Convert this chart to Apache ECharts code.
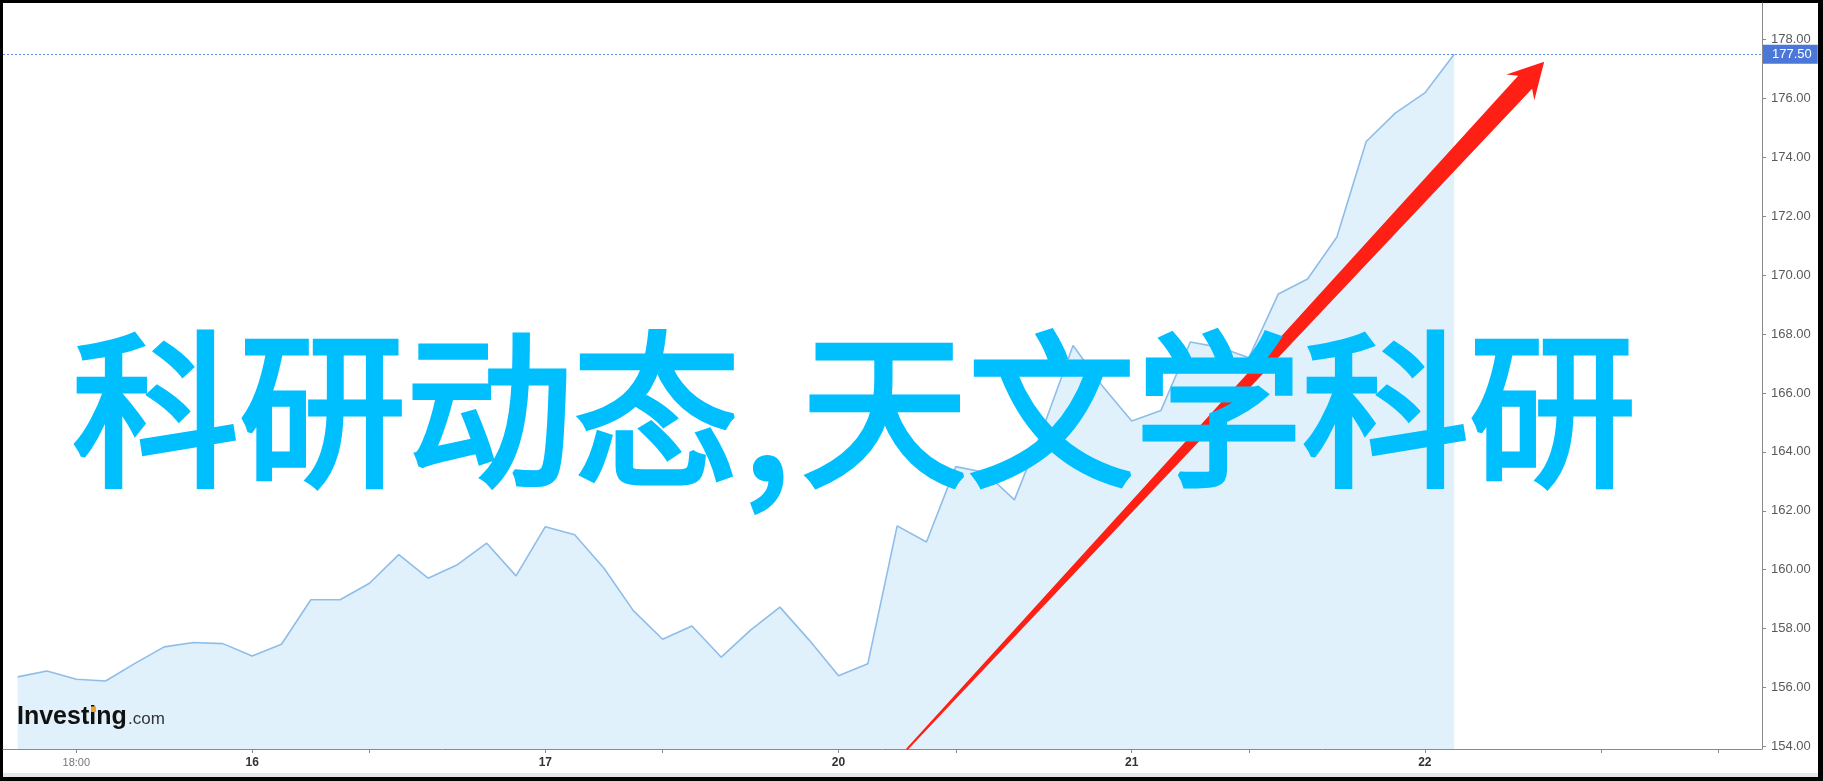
<!DOCTYPE html>
<html>
<head>
<meta charset="utf-8">
<script src="https://cdn.jsdelivr.net/npm/echarts@6/dist/echarts.min.js"></script>
<style>
  html, body { margin: 0; padding: 0; background: #000; width: 1823px; height: 781px; overflow: hidden; }
  #paper { position: absolute; left: 3px; top: 3px; width: 1815px; height: 770px; background: #fff; }
  #strip { position: absolute; left: 3px; top: 773px; width: 1815px; height: 4px; background: #e6e6e6; }
  #chart { position: absolute; left: 0; top: 0; width: 1823px; height: 781px; }
</style>
</head>
<body>
<div id="paper"></div>
<div id="strip"></div>
<div id="chart"></div>
<script>
// ---- data ----
const slotCount = 60;                       // hourly slots on the time axis
const prices = [
  156.36, 156.56, 156.28, 156.22, 156.82, 157.38, 157.53, 157.49, 157.07, 157.47,
  158.98, 158.98, 159.54, 160.51, 159.71, 160.17, 160.90, 159.79, 161.46, 161.19,
  160.05, 158.61, 157.64, 158.09, 157.03, 157.95, 158.73, 157.61, 156.40, 156.81,
  161.49, 160.94, 163.50, 163.30, 162.37, 164.87, 167.61, 166.24, 165.05, 165.41,
  167.73, 167.55, 167.20, 169.36, 169.87, 171.30, 174.54, 175.51, 176.19, 177.50
];
const lastPrice = 177.50;
const tickIndex = [2, 8, 12, 18, 22, 28, 32, 38, 42, 48, 54, 58];
const labelIndex = [2, 8, 18, 28, 38, 48];
const labelText = ['18:00', '16', '17', '20', '21', '22'];
const yTicks = [154, 156, 158, 160, 162, 164, 166, 168, 170, 172, 174, 176, 178];
const yMin = 153.912, yMax = 179.243;
const arrowFrom = [30.33, 153.90];   // [slot, price]
const arrowTo = [52.07, 177.25];
const titleLeft = '科研动态';
const titleComma = ',';
const titleRight = '天文学科研';
const logoMain = 'Investing';
const logoSuffix = '.com';

const slots = [];
for (let i = 0; i < slotCount; i++) slots.push('s' + i);

const chart = echarts.init(document.getElementById('chart'), null, { renderer: 'canvas' });

chart.setOption({
  backgroundColor: 'transparent',
  animation: false,
  grid: { left: 3, top: 3, width: 1759, height: 746, containLabel: false },
  xAxis: {
    type: 'category',
    data: slots,
    boundaryGap: true,
    axisLine: { show: true, lineStyle: { color: '#8a8a8a', width: 1 } },
    axisTick: {
      show: true, alignWithLabel: true, length: 4,
      interval: (i) => tickIndex.includes(i),
      lineStyle: { color: '#8a8a8a' }
    },
    axisLabel: {
      interval: (i) => labelIndex.includes(i),
      margin: 8,
      formatter: (v, i) => {
        const k = labelIndex.indexOf(i);
        if (k < 0) return '';
        return k === 0 ? '{t|' + labelText[k] + '}' : '{d|' + labelText[k] + '}';
      },
      rich: {
        t: { color: '#777', fontSize: 11, fontFamily: 'Liberation Sans' },
        d: { color: '#333', fontSize: 12, fontWeight: 'bold', fontFamily: 'Liberation Sans Narrow, Liberation Sans' }
      }
    },
    splitLine: { show: false }
  },
  yAxis: {
    type: 'value',
    position: 'right',
    min: yMin,
    max: yMax,
    splitLine: { show: false },
    axisLine: { show: true, lineStyle: { color: '#8a8a8a', width: 1 } },
    axisTick: { show: true, length: 4, customValues: yTicks, lineStyle: { color: '#8a8a8a' } },
    axisLabel: {
      customValues: yTicks,
      formatter: (v) => Number(v).toFixed(2),
      color: '#5a5a5a', fontSize: 13, margin: 9, fontFamily: 'Liberation Sans'
    }
  },
  series: [{
    type: 'line',
    data: prices,
    showSymbol: false,
    symbol: 'none',
    lineStyle: { color: '#8fbde9', width: 1.6 },
    areaStyle: { color: '#e1f1fb', opacity: 1 },
    emphasis: { disabled: true },
    markLine: {
      silent: true,
      symbol: 'none',
      animation: false,
      data: [{ yAxis: lastPrice }],
      lineStyle: { type: [2, 2], color: '#5c8df0', width: 1 },
      label: {
        show: true,
        position: 'end',
        distance: 1,
        formatter: lastPrice.toFixed(2),
        color: '#fff',
        backgroundColor: '#4a77d8',
        padding: [3, 6, 3, 9],
        fontSize: 13,
        fontFamily: 'Liberation Sans'
      }
    }
  }]
});

// ---- overlays ----
const p0 = chart.convertToPixel({ xAxisIndex: 0 }, 0);
const p1 = chart.convertToPixel({ xAxisIndex: 0 }, 1);
const xPix = (f) => p0 + f * (p1 - p0);
const yPix = (v) => chart.convertToPixel({ yAxisIndex: 0 }, v);

const tail = [xPix(arrowFrom[0]), yPix(arrowFrom[1])];
const tip = [xPix(arrowTo[0]), yPix(arrowTo[1])];
const dx = tip[0] - tail[0], dy = tip[1] - tail[1];
const len = Math.sqrt(dx * dx + dy * dy);
const ux = dx / len, uy = dy / len;
const nx = -uy, ny = ux;
const pt = (along, side) => [tip[0] - ux * along + nx * side, tip[1] - uy * along + ny * side];
const tailW = 1, shaftW = 9.5, headW = 19, notch = 28, headL = 35;
const arrowPts = [
  [tail[0] + nx * tailW, tail[1] + ny * tailW],
  pt(notch, shaftW),
  pt(headL, headW),
  [tip[0], tip[1]],
  pt(headL, -headW),
  pt(notch, -shaftW),
  [tail[0] - nx * tailW, tail[1] - ny * tailW]
];

const cjkFont = '"Noto Sans CJK SC"';
const titleStyle = (txt) => ({
  text: txt, fill: '#00bfff', stroke: '#00bfff', lineWidth: 5, lineJoin: 'round',
  font: '400 167px ' + cjkFont, align: 'left', verticalAlign: 'middle'
});
chart.setOption({
  graphic: [
    {
      type: 'polygon', z: 10, silent: true,
      shape: { points: arrowPts },
      style: { fill: '#ff2015' }
    },
    { type: 'text', z: 20, silent: true, x: 72, y: 410, style: titleStyle(titleLeft) },
    {
      type: 'text', z: 20, silent: true, x: 742, y: 424,
      style: { text: titleComma, fill: '#00bfff', font: 'bold 152px ' + cjkFont, align: 'left', verticalAlign: 'middle' }
    },
    { type: 'text', z: 20, silent: true, x: 801, y: 410, style: titleStyle(titleRight) },
    {
      type: 'text', z: 15, silent: true, x: 17, y: 717,
      style: { text: logoMain, fill: '#111', font: 'bold 25px "Liberation Sans"', align: 'left', verticalAlign: 'middle' }
    },
    {
      type: 'rect', z: 16, silent: true,
      shape: { x: 91, y: 706.5, width: 5, height: 5.5 },
      style: { fill: '#f7a21b' }
    },
    {
      type: 'text', z: 15, silent: true, x: 128, y: 719,
      style: { text: logoSuffix, fill: '#333', font: '17px "Liberation Sans"', align: 'left', verticalAlign: 'middle' }
    }
  ]
});
</script>
</body>
</html>
